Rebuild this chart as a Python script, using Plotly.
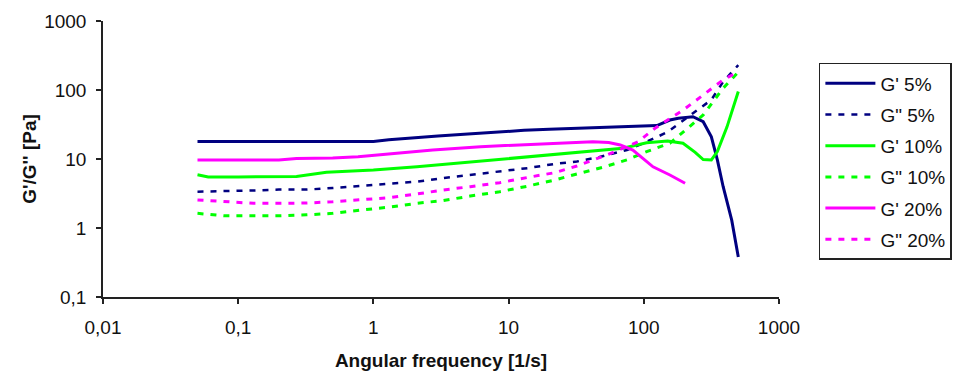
import plotly.graph_objects as go

# ---- data ----
x_gp5 = [0.05, 0.1, 0.2, 0.5, 1.0, 1.3, 2, 3, 5, 8, 13, 20, 32, 50, 80, 125, 156, 180, 231, 275, 316, 350, 386, 447, 500]
y_gp5 = [18, 18, 18, 18, 18, 19, 20, 21.5, 23, 24.5, 26, 27, 28, 29, 30, 30.5, 36.7, 39, 41, 34.7, 21, 9.7, 4, 1.3, 0.38]

x_gpp5 = [0.05, 0.08, 0.13, 0.2, 0.32, 0.5, 0.8, 1.3, 2.1, 3.3, 5.2, 8.6, 14, 22, 32, 47, 75, 100, 125, 150, 231, 316, 386, 500]
y_gpp5 = [3.36, 3.4, 3.5, 3.6, 3.6, 3.8, 4.06, 4.44, 4.7, 5.3, 5.9, 6.6, 7.4, 8.5, 9.2, 10.7, 13.5, 17, 20.8, 24.6, 46, 72, 131, 230]

x_gp10 = [0.05, 0.06, 0.1, 0.2, 0.27, 0.45, 1.0, 2.1, 4.2, 9, 19, 34, 50, 70, 105, 150, 195, 240, 275, 316, 350, 412, 500]
y_gp10 = [5.9, 5.5, 5.5, 5.5, 5.6, 6.4, 6.9, 7.7, 8.7, 9.9, 11.4, 12.8, 13.5, 14.3, 17.2, 18.2, 16.9, 12.5, 9.8, 9.7, 12.8, 29, 95]

x_gpp10 = [0.05, 0.08, 0.13, 0.2, 0.32, 0.5, 0.8, 1.3, 2.1, 3.3, 5.2, 8.6, 14, 22, 30, 50, 75, 105, 156, 202, 275, 386, 500]
y_gpp10 = [1.63, 1.5, 1.5, 1.5, 1.55, 1.63, 1.82, 2.0, 2.28, 2.5, 2.9, 3.36, 4.06, 4.97, 5.87, 7.6, 9.7, 12.8, 16.9, 26.3, 43.4, 106, 182]

x_gp20 = [0.05, 0.1, 0.2, 0.27, 0.5, 0.77, 1.33, 2.75, 6.2, 14.4, 34, 42, 55, 67, 83, 100, 117, 156, 202]
y_gp20 = [9.7, 9.7, 9.7, 10.2, 10.3, 10.8, 12.0, 13.5, 15.1, 16.3, 17.5, 17.8, 17.3, 16, 13.5, 10, 7.7, 5.87, 4.45]

x_gpp20 = [0.05, 0.08, 0.13, 0.2, 0.32, 0.5, 0.8, 1.3, 2.1, 3.3, 5.2, 8.6, 14, 22, 32, 53, 91, 121, 195, 298, 386, 500]
y_gpp20 = [2.55, 2.4, 2.28, 2.28, 2.3, 2.4, 2.55, 2.75, 3.11, 3.56, 3.97, 4.54, 5.43, 6.34, 7.92, 11.4, 17.8, 27.9, 51, 95, 140, 184]

series_names = ["G' 5%", 'G" 5%', "G' 10%", 'G" 10%', "G' 20%", 'G" 20%']

x_tickvals = [0.01, 0.1, 1, 10, 100, 1000]
x_ticktext = ["0,01", "0,1", "1", "10", "100", "1000"]
y_tickvals = [0.1, 1, 10, 100, 1000]
y_ticktext = ["0,1", "1", "10", "100", "1000"]

NAVY = "#000080"
GREEN = "#00FF00"
MAGENTA = "#FF00FF"

FONT = "Liberation Sans, Arial, sans-serif"

fig = go.Figure()
specs = [
    (x_gp5, y_gp5, NAVY, "solid", 3),
    (x_gpp5, y_gpp5, NAVY, "6px,7px", 2.5),
    (x_gp10, y_gp10, GREEN, "solid", 3),
    (x_gpp10, y_gpp10, GREEN, "6px,7px", 3),
    (x_gp20, y_gp20, MAGENTA, "solid", 3),
    (x_gpp20, y_gpp20, MAGENTA, "6px,7px", 3),
]
for i, ((xs, ys, col, dash, w), name) in enumerate(zip(specs, series_names)):
    fig.add_trace(go.Scatter(
        x=xs, y=ys, mode="lines", name=name,
        legendgroup=f"g{i}",
        line=dict(color=col, width=w, dash=dash),
    ))

fig.update_layout(
    width=971, height=375,
    margin=dict(l=103, r=192, t=21, b=78, autoexpand=False),
    paper_bgcolor="white", plot_bgcolor="white",
    font=dict(family=FONT, size=19, color="#111"),
    showlegend=True,
    legend=dict(
        x=1.059, y=0.848, xanchor="left", yanchor="top",
        bordercolor="#222", borderwidth=1.5,
        font=dict(family=FONT, size=19, color="#111"),
        traceorder="grouped", tracegroupgap=3.5,
        itemwidth=50,
        bgcolor="white",
    ),
)
fig.update_xaxes(
    type="log", range=[-2, 3],
    tickvals=x_tickvals, ticktext=x_ticktext,
    showgrid=False, zeroline=False,
    showline=True, linecolor="#222", linewidth=1.5,
    ticks="outside", ticklen=5, tickwidth=1.5, tickcolor="#222",
    ticklabelstandoff=7,
    title=dict(text="<b>Angular frequency [1/s]</b>", font=dict(size=19), standoff=17),
)
fig.update_yaxes(
    type="log", range=[-1, 3],
    tickvals=y_tickvals, ticktext=y_ticktext,
    showgrid=False, zeroline=False,
    showline=True, linecolor="#222", linewidth=1.5,
    ticks="outside", ticklen=5, tickwidth=1.5, tickcolor="#222",
    ticklabelstandoff=6,
    title=dict(text="<b>G'/G'' [Pa]</b>", font=dict(size=19), standoff=3),
)

fig.write_html("out.html")
